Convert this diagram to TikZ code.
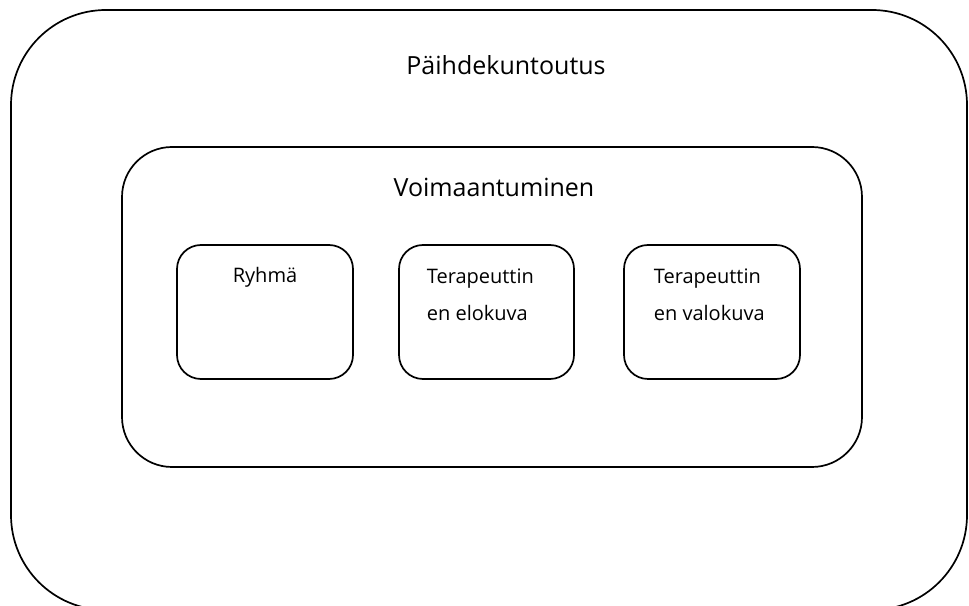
\documentclass[tikz,border=0pt]{standalone}
\usepackage{fontspec}
\setmainfont{Open Sans}
\begin{document}
\begin{tikzpicture}[x=1pt,y=1pt,line join=round,line cap=round,line width=1.7pt]
	\tikzset{box/.style={draw,inner sep=0pt,minimum width=#1},
		bigtxt/.style={font=\fontsize{25}{28}\selectfont,anchor=base},
		smalltxt/.style={font=\fontsize{20}{37}\selectfont,align=left,anchor=base west,inner sep=0pt}}
	\useasboundingbox (0,0) rectangle (969,605);
	% laatikot
	\node[box=956,minimum height=600,rounded corners=95] (paihde) at (489,295) {};
	\node[box=740,minimum height=320,rounded corners=50] (voima) at (492,298) {};
	\node[box=176,minimum height=134,rounded corners=24] (ryhma) at (265,293) {};
	\node[box=175,minimum height=134,rounded corners=24] (elokuva) at (486.5,293) {};
	\node[box=176,minimum height=134,rounded corners=24] (valokuva) at (712,293) {};
	% tekstit
	\node[bigtxt] (paihdetxt) at (506,530) {Päihdekuntoutus};
	\node[bigtxt] (voimatxt) at (494,408) {Voimaantuminen};
	\node[smalltxt,anchor=base] (ryhmatxt) at (265,322) {Ryhmä};
	\node[smalltxt] (elokuvatxt) at (426,284) {Terapeuttin\\en elokuva};
	\node[smalltxt] (valokuvatxt) at (653,284) {Terapeuttin\\en valokuva};
\end{tikzpicture}
\end{document}
